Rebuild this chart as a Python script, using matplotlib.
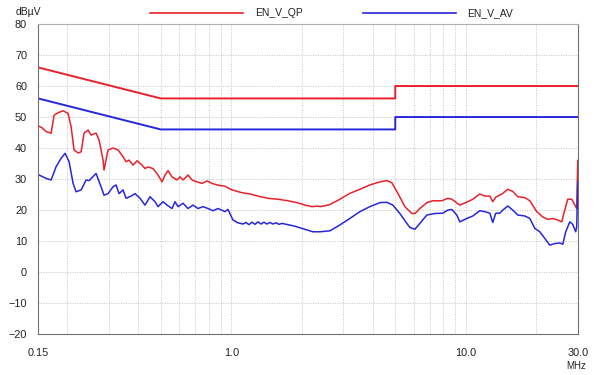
import matplotlib
matplotlib.use("Agg")
import matplotlib.pyplot as plt
from matplotlib.lines import Line2D

plt.rcParams['font.family'] = ['Liberation Sans', 'DejaVu Sans']

# limit lines (EN55022 class B style)
qp_freq = [0.15, 0.5, 5.0, 5.0, 30.0]
qp_limit = [66, 56, 56, 60, 60]
av_freq = [0.15, 0.5, 5.0, 5.0, 30.0]
av_limit = [56, 46, 46, 50, 50]

# measured quasi-peak trace (MHz, dBuV)
qp_meas_freq = [0.15, 0.156, 0.1623, 0.1704, 0.1755, 0.1826, 0.1917, 0.2013, 0.2073, 0.2135,
                0.2222, 0.2288, 0.2355, 0.245, 0.2523, 0.265, 0.2729, 0.2838, 0.2865, 0.298,
                0.313, 0.3288, 0.3453, 0.3557, 0.3663, 0.381, 0.3962, 0.4161, 0.4284, 0.4414,
                0.4635, 0.4868, 0.5064, 0.5214, 0.537, 0.5585, 0.5865, 0.604, 0.6222, 0.6534,
                0.6797, 0.7139, 0.7497, 0.7875, 0.827, 0.8687, 0.921, 0.9396, 1.006, 1.110,
                1.201, 1.299, 1.4325, 1.580, 1.743, 1.904, 2.059, 2.206, 2.340, 2.386,
                2.506, 2.631, 2.902, 3.202, 3.533, 3.897, 4.299, 4.604, 4.835, 5.130,
                5.493, 5.883, 6.060, 6.180, 6.365, 6.816, 7.229, 7.898, 8.375, 8.709,
                9.421, 10.19, 10.71, 11.46, 12.04, 12.65, 13.02, 13.41, 13.95, 14.37,
                15.09, 15.85, 16.65, 17.84, 18.73, 20.05, 21.27, 22.34, 23.46, 24.64,
                25.63, 26.40, 27.19, 28.27, 29.11, 29.69, 30.0]
qp_meas = [47.2, 46.5, 45.3, 44.8, 50.6, 51.4, 52.0, 51.2, 46.9, 39.4,
           38.4, 38.8, 44.8, 45.8, 44.2, 44.8, 42.6, 36.1, 32.9, 39.4,
           40.0, 39.4, 37.2, 35.6, 36.1, 34.5, 35.9, 34.5, 33.4, 33.9,
           33.4, 31.3, 29.1, 31.3, 32.7, 30.7, 29.7, 30.7, 29.7, 31.3,
           29.7, 29.1, 28.6, 29.4, 28.6, 28.1, 27.8, 27.7, 26.5, 25.6,
           25.2, 24.5, 23.8, 23.5, 23.0, 22.4, 21.6, 21.1, 21.3, 21.1,
           21.4, 21.8, 23.5, 25.4, 26.7, 28.1, 29.1, 29.5, 28.8, 25.4,
           21.1, 18.9, 18.9, 19.5, 20.5, 22.4, 23.0, 23.0, 23.8, 23.5,
           21.6, 22.7, 23.5, 25.2, 24.5, 24.5, 22.7, 24.2, 24.8, 25.4,
           26.7, 26.0, 24.3, 24.0, 23.0, 19.5, 17.8, 17.0, 17.3, 16.8,
           16.2, 20.0, 23.5, 23.5, 21.7, 20.5, 36.0]

# measured average trace (MHz, dBuV)
av_meas_freq = [0.15, 0.1515, 0.1623, 0.1704, 0.179, 0.188, 0.1955, 0.2033, 0.2115, 0.2178,
                0.2288, 0.2403, 0.2475, 0.265, 0.2783, 0.2865, 0.298, 0.313, 0.3224, 0.3321,
                0.3453, 0.3557, 0.3735, 0.3885, 0.408, 0.4284, 0.450, 0.4727, 0.4868, 0.5114,
                0.5318, 0.5585, 0.5751, 0.5924, 0.6222, 0.6534, 0.6864, 0.7209, 0.7571, 0.7953,
                0.8352, 0.877, 0.921, 0.9396, 0.9675, 1.016, 1.067, 1.121, 1.154, 1.189,
                1.225, 1.261, 1.299, 1.338, 1.377, 1.418, 1.461, 1.504, 1.549, 1.596,
                1.644, 1.692, 1.867, 2.059, 2.227, 2.386, 2.631, 2.902, 3.202, 3.533,
                3.897, 4.299, 4.604, 4.883, 5.231, 5.603, 5.769, 6.060, 6.365, 6.816,
                7.372, 7.973, 8.375, 8.709, 9.150, 9.421, 10.10, 10.71, 11.46, 12.04,
                12.65, 13.02, 13.41, 13.95, 14.37, 15.09, 15.85, 16.65, 17.84, 18.73,
                19.67, 20.66, 21.69, 22.78, 23.93, 25.13, 25.89, 26.66, 27.73, 28.55,
                29.40, 29.69, 30.0]
av_meas = [31.5, 31.3, 30.2, 29.7, 34.0, 36.7, 38.3, 35.6, 28.6, 25.9,
           26.5, 29.7, 29.5, 31.8, 27.5, 24.8, 25.3, 27.5, 28.1, 25.3,
           26.5, 23.8, 24.5, 25.3, 23.8, 21.6, 24.3, 22.7, 21.1, 22.7,
           21.6, 20.5, 22.7, 21.1, 22.2, 20.5, 21.6, 20.5, 21.1, 20.5,
           19.8, 20.5, 19.8, 19.5, 20.2, 16.8, 15.9, 15.5, 16.0, 15.3,
           16.1, 15.4, 16.2, 15.5, 16.1, 15.5, 16.0, 15.5, 15.9, 15.4,
           15.7, 15.5, 14.8, 13.8, 13.0, 13.0, 13.3, 15.2, 17.3, 19.5,
           21.1, 22.4, 22.5, 21.6, 18.9, 15.7, 14.4, 13.8, 15.7, 18.4,
           18.9, 19.0, 20.0, 20.2, 18.4, 16.2, 17.3, 18.1, 19.8, 19.5,
           19.0, 16.0, 19.0, 19.0, 20.0, 21.3, 20.0, 18.4, 18.1, 17.3,
           14.1, 13.0, 10.9, 8.7, 9.2, 9.4, 9.0, 13.0, 16.2, 15.4,
           13.0, 14.6, 29.0]

x_major = [0.15, 1.0, 10.0, 30.0]
x_major_labels = ['0.15', '1.0', '10.0', '30.0']
x_minor = [0.2, 0.3, 0.4, 0.5, 0.6, 0.7, 0.8, 0.9, 2, 3, 4, 5, 6, 7, 8, 9, 20]
y_ticks = list(range(-20, 81, 10))

RED = '#e8212b'
BLUE = '#2626dc'

fig = plt.figure(figsize=(6.05, 3.75), dpi=100)
ax = fig.add_axes([0.063, 0.109, 0.892, 0.827])

ax.plot(qp_meas_freq, qp_meas, color=RED, lw=1.1, solid_joinstyle='round')
ax.plot(av_meas_freq, av_meas, color=BLUE, lw=1.1, solid_joinstyle='round')
ax.plot(qp_freq, qp_limit, color=RED, lw=1.4)
ax.plot(av_freq, av_limit, color=BLUE, lw=1.4)

ax.set_xscale('log')
ax.set_xlim(0.15, 30)
ax.set_ylim(-20, 80)
ax.set_xticks(x_major)
ax.set_xticklabels(x_major_labels)
ax.set_xticks(x_minor, minor=True)
ax.set_xticklabels([], minor=True)
ax.set_yticks(y_ticks)
ax.tick_params(axis='both', which='both', length=0, labelsize=7.8, colors='#222222')
ax.tick_params(axis='x', pad=10)
ax.tick_params(axis='y', pad=8)
ax.grid(True, which='both', ls=(0, (1, 1.5)), color='#c4c4c4', lw=0.7)

for side in ['left', 'bottom', 'right']:
    ax.spines[side].set_color('#707070')
ax.spines['top'].set_color('#b0b0b0')

fig.text(0.026, 0.968, 'dB\u00b5V', fontsize=7.5, ha='left', va='center', color='#222222')
fig.text(0.952, 0.025, 'MHz', fontsize=7, ha='center', va='center', color='#222222')

# legend drawn above the plot
fig.add_artist(Line2D([0.248, 0.402], [0.965, 0.965], color=RED, lw=1.2, transform=fig.transFigure))
fig.text(0.421, 0.965, 'EN_V_QP', fontsize=7.5, ha='left', va='center', color='#222222')
fig.add_artist(Line2D([0.6, 0.753], [0.965, 0.965], color=BLUE, lw=1.2, transform=fig.transFigure))
fig.text(0.772, 0.965, 'EN_V_AV', fontsize=7.5, ha='left', va='center', color='#222222')

fig.savefig('out.png', dpi=100)
